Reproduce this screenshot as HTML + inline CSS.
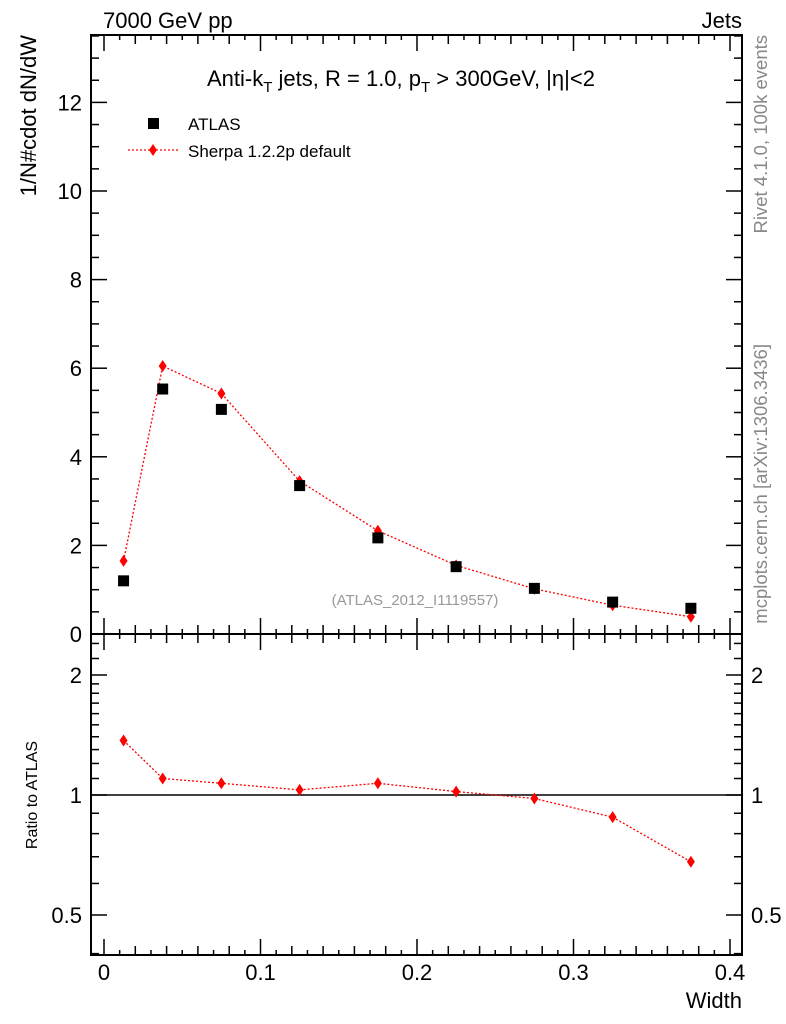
<!DOCTYPE html>
<html><head><meta charset="utf-8"><style>
body{margin:0;background:#fff;}
svg{display:block;font-family:"Liberation Sans",sans-serif;}
</style></head><body>
<svg id="c" width="786" height="1024" viewBox="0 0 786 1024"></svg>
<script>
const binCenters=[0.0125,0.0375,0.075,0.125,0.175,0.225,0.275,0.325,0.375];
const atlasVals=[1.2,5.53,5.07,3.35,2.17,1.52,1.03,0.72,0.58];
const sherpaVals=[1.65,6.05,5.43,3.45,2.33,1.55,1.02,0.65,0.39];
const ratioVals=[1.37,1.1,1.07,1.03,1.07,1.02,0.98,0.88,0.68];
const xTicks=[0,0.1,0.2,0.3,0.4];
const yTicks=[0,2,4,6,8,10,12];
const rTicks=[0.5,1,2];

const NS="http://www.w3.org/2000/svg";
const svg=document.getElementById('c');
const L=91,R=742,T=35,MB=634,RB=955;
const X=v=>104+v*1565;
const Y=v=>634-v*44.3;
const RY=v=>795-Math.log2(v)*120;
function el(tag,attrs,parent){const e=document.createElementNS(NS,tag);for(const k in attrs)e.setAttribute(k,attrs[k]);(parent||svg).appendChild(e);return e;}
function txt(s,attrs){const e=el('text',attrs);e.textContent=s;return e;}

let f=el('rect',{x:L,y:T,width:R-L,height:MB-T,fill:'none',stroke:'#000','stroke-width':2});

f=el('rect',{x:L,y:MB,width:R-L,height:RB-MB,fill:'none',stroke:'#000','stroke-width':2});


for(let i=0;i<=40;i++){
  const v=i/100,x=X(v);if(x>R)break;
  const len=i%10==0?16:(i%2==0?9:5);
  for(const [yb,yt] of [[MB,T],[RB,MB]]){
    el('line',{x1:x,x2:x,y1:yb,y2:yb-len,stroke:'#000','stroke-width':1.5});
    el('line',{x1:x,x2:x,y1:yt,y2:yt+len,stroke:'#000','stroke-width':1.5});
  }
}
xTicks.forEach(v=>{const t=txt(v,{x:X(v),y:980,'font-size':22,'text-anchor':'middle'});
});
for(let i=0;i<=27;i++){
  const v=i*0.5,y=Y(v);if(y<T)break;
  const len=i%4==0?16:8;
  el('line',{x1:L,x2:L+len,y1:y,y2:y,stroke:'#000','stroke-width':1.5});
  el('line',{x1:R,x2:R-len,y1:y,y2:y,stroke:'#000','stroke-width':1.5});
}
yTicks.forEach(v=>{const t=txt(v,{x:82,y:Y(v)+8,'font-size':22,'text-anchor':'end'});
});
const rMinor=[0.4,0.5,0.6,0.7,0.8,0.9,1,2];
for(const v of rMinor){const y=RY(v);const len=(v==0.5||v==1||v==2)?16:8;
  el('line',{x1:L,x2:L+len,y1:y,y2:y,stroke:'#000','stroke-width':1.5});
  el('line',{x1:R,x2:R-len,y1:y,y2:y,stroke:'#000','stroke-width':1.5});}
for(let v=1.1;v<2;v+=0.1){const y=RY(v);
  el('line',{x1:L,x2:L+8,y1:y,y2:y,stroke:'#000','stroke-width':1.5});
  el('line',{x1:R,x2:R-8,y1:y,y2:y,stroke:'#000','stroke-width':1.5});}
for(const v of [2.2,2.4]){const y=RY(v);
  el('line',{x1:L,x2:L+8,y1:y,y2:y,stroke:'#000','stroke-width':1.5});
  el('line',{x1:R,x2:R-8,y1:y,y2:y,stroke:'#000','stroke-width':1.5});}
rTicks.forEach(v=>{
  let t=txt(v,{x:82,y:RY(v)+8,'font-size':22,'text-anchor':'end'});
  
  t=txt(v,{x:751,y:RY(v)+8,'font-size':22,'text-anchor':'start'});
  
});
let ref=el('line',{x1:L,x2:R,y1:RY(1),y2:RY(1),stroke:'#000','stroke-width':1.5});


function diamond(x,y,g){el('polygon',{points:`${x},${y-6} ${x+4},${y} ${x},${y+6} ${x-4},${y}`,fill:'#f00'},g);}

let g=el('g',{});
el('polyline',{points:binCenters.map((x,i)=>X(x)+','+Y(sherpaVals[i])).join(' '),fill:'none',stroke:'#f00','stroke-width':1.3,'stroke-dasharray':'2,2'},g);
binCenters.forEach((x,i)=>diamond(X(x),Y(sherpaVals[i]),g));
g=el('g',{});
binCenters.forEach((x,i)=>el('rect',{x:X(x)-5.5,y:Y(atlasVals[i])-5.5,width:11,height:11,fill:'#000'},g));
g=el('g',{});
el('polyline',{points:binCenters.map((x,i)=>X(x)+','+RY(ratioVals[i])).join(' '),fill:'none',stroke:'#f00','stroke-width':1.3,'stroke-dasharray':'2,2'},g);
binCenters.forEach((x,i)=>diamond(X(x),RY(ratioVals[i]),g));

g=el('g',{});
el('rect',{x:148,y:118,width:11,height:11,fill:'#000'},g);
el('line',{x1:128,x2:180,y1:150,y2:150,stroke:'#f00','stroke-width':1.3,'stroke-dasharray':'2,2'},g);
diamond(153,150,g);
let t=txt('ATLAS',{x:188,y:130,'font-size':17});
t=txt('Sherpa 1.2.2p default',{x:188,y:157,'font-size':17});

t=txt('7000 GeV pp',{x:103,y:28,'font-size':22});
t=txt('Jets',{x:742,y:28,'font-size':22,'text-anchor':'end'});
t=el('text',{x:207,y:86,'font-size':22});
t.innerHTML='Anti-k<tspan font-size="15" dy="6">T</tspan><tspan dy="-6"> jets, R = 1.0, p</tspan><tspan font-size="15" dy="6">T</tspan><tspan dy="-6"> &gt; 300GeV, |η|&lt;2</tspan>';
t=txt('(ATLAS_2012_I1119557)',{x:415,y:605,'font-size':15,fill:'#999','text-anchor':'middle'});
t=txt('1/N#cdot dN/dW',{x:0,y:0,'font-size':22,'text-anchor':'end',transform:'translate(36,35) rotate(-90)'});
t=txt('Ratio to ATLAS',{x:0,y:0,'font-size':16,'text-anchor':'middle',transform:'translate(37,795) rotate(-90)'});
t=txt('Width',{x:742,y:1008,'font-size':22,'text-anchor':'end'});
t=txt('Rivet 4.1.0,  100k events',{x:0,y:0,'font-size':18.5,fill:'#888','text-anchor':'end',transform:'translate(767,35) rotate(-90)'});
t=txt('mcplots.cern.ch [arXiv:1306.3436]',{x:0,y:0,'font-size':18.5,fill:'#888','text-anchor':'end',transform:'translate(767,344) rotate(-90)'});
</script>
</body></html>
